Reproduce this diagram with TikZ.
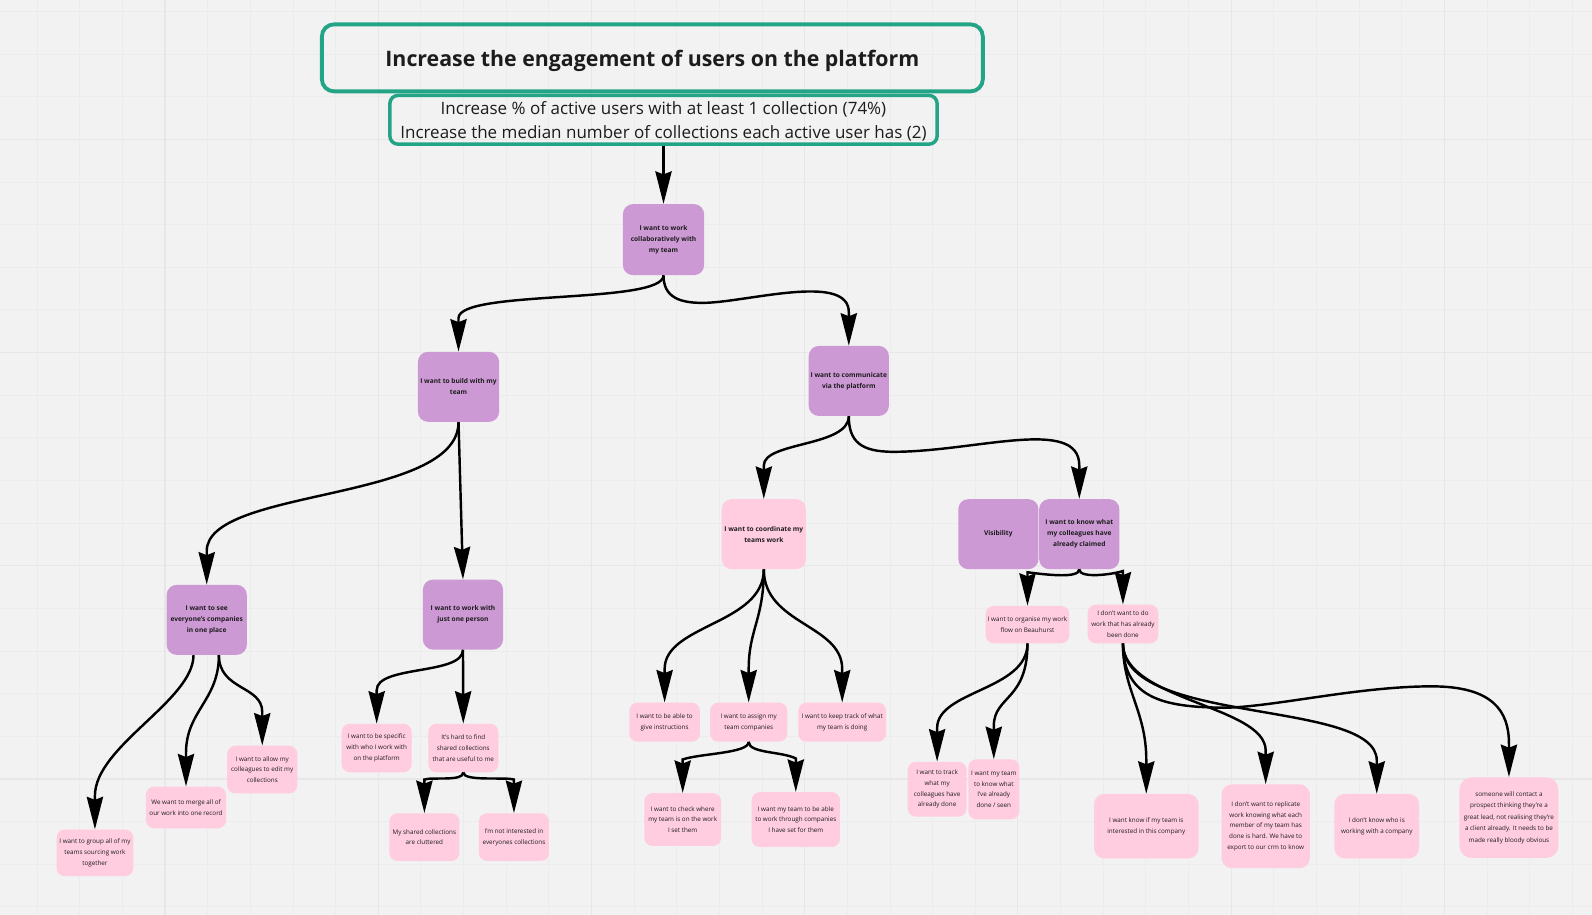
\documentclass[tikz,border=0pt]{standalone}
\usepackage{fontspec}
\setmainfont{Open Sans}
\usetikzlibrary{arrows.meta}
\definecolor{bgc}{RGB}{242,242,242}
\definecolor{gminor}{RGB}{236,236,236}
\definecolor{gmajor}{RGB}{231,231,231}
\definecolor{goalc}{RGB}{35,164,134}
\definecolor{purc}{RGB}{204,153,212}
\definecolor{pinkc}{RGB}{255,204,224}
\definecolor{txt}{RGB}{28,28,28}
\begin{document}
\begin{tikzpicture}[x=1pt,y=-1pt,
  gridminor/.style={draw=gminor,line width=0.8pt},
  gridmajor/.style={draw=gmajor,line width=1.1pt},
  goal/.style={draw=goalc,line width=3.8pt,inner sep=0pt,text=txt,align=center},
  purbox/.style={fill=purc,rounded corners=10pt,inner sep=0pt,align=center,text=txt,font=\bfseries\fontsize{6.5}{10.8}\selectfont},
  pinkbold/.style={fill=pinkc,rounded corners=10pt,inner sep=0pt,align=center,text=txt,font=\bfseries\fontsize{6.5}{10.8}\selectfont},
  pinkbox/.style={fill=pinkc,rounded corners=8pt,inner sep=0pt,align=center,text=txt,font=\fontsize{6.2}{10.6}\selectfont},
  arr/.style={draw=black,line width=2.4pt,-{Stealth[length=32pt,width=16pt,inset=3pt]}}
]
\fill[bgc] (0,0) rectangle (1568,901.2);
\useasboundingbox (0,0) rectangle (1568,901.2);
\foreach \i in {-3,...,33}{\draw[gridminor] ({162.5+42*\i},0) -- ({162.5+42*\i},901.2);}
\foreach \j in {-3,...,18}{\draw[gridminor] (0,{137.2+42*\j}) -- (1568,{137.2+42*\j});}
\foreach \i in {0,...,6}{\draw[gridmajor] ({162.5+210*\i},0) -- ({162.5+210*\i},901.2);}
\foreach \j in {0,...,3}{\draw[gridmajor] (0,{137.2+210*\j}) -- (1568,{137.2+210*\j});}

% goals
\node[goal,minimum width=651pt,minimum height=66pt,rounded corners=12pt,text height=17pt,text depth=0pt,font=\bfseries\fontsize{21}{25}\selectfont] (T) at (642.5,57) {Increase the engagement of users on the platform};
\node[goal,minimum width=539pt,minimum height=48pt,rounded corners=8pt,line width=3.4pt,text depth=0pt,font=\fontsize{16.75}{24}\selectfont] (S) at (653.5,118) {Increase \% of active users with at least 1 collection (74\%)\\Increase the median number of collections each active user has (2)};

% purple / main nodes
\node[purbox,minimum width=80pt,minimum height=70pt] (A) at (653.5,236) {I want to work\\collaboratively with\\my team};
\node[purbox,minimum width=80pt,minimum height=69pt] (B) at (451.6,381) {I want to build with my\\team};
\node[purbox,minimum width=79pt,minimum height=69pt] (C) at (836,375.2) {I want to communicate\\via the platform};
\node[purbox,minimum width=79pt,minimum height=69pt] (D) at (203.6,610.5) {I want to see\\everyone’s companies\\in one place};
\node[purbox,minimum width=79pt,minimum height=69pt] (E) at (456,605.3) {I want to work with\\just one person};
\node[pinkbold,minimum width=83pt,minimum height=69pt] (F) at (752.3,526.1) {I want to coordinate my\\teams work};
\node[purbox,minimum width=79pt,minimum height=69pt] (G) at (983.3,526.1) {Visibility};
\node[purbox,minimum width=79pt,minimum height=69pt] (H) at (1063,526.1) {I want to know what\\my colleagues have\\already claimed};

% pink leaves
\node[pinkbox,minimum width=75.5pt,minimum height=46pt] (D1) at (93.5,840) {I want to group all of my\\teams sourcing work\\together};
\node[pinkbox,minimum width=79pt,minimum height=41pt] (D2) at (183.2,795.3) {We want to merge all of\\our work into one record};
\node[pinkbox,minimum width=69pt,minimum height=47pt] (D3) at (258.3,758) {I want to allow my\\colleagues to edit my\\collections};
\node[pinkbox,minimum width=69pt,minimum height=47.7pt] (E1) at (371,736.8) {I want to be specific\\with who I work with\\on the platform};
\node[pinkbox,minimum width=69pt,minimum height=47.7pt] (E2) at (456.3,736.8) {It’s hard to find\\shared collections\\that are useful to me};
\node[pinkbox,minimum width=69pt,minimum height=47pt] (E21) at (418,824.5) {My shared collections\\are cluttered};
\node[pinkbox,minimum width=69pt,minimum height=47pt] (E22) at (506.2,824.5) {I’m not interested in\\everyones collections};
\node[pinkbox,minimum width=69.5pt,minimum height=38.4pt] (F1) at (654.6,711.3) {I want to be able to\\give instructions};
\node[pinkbox,minimum width=76pt,minimum height=38.4pt] (F2) at (737.4,711.3) {I want to assign my\\team companies};
\node[pinkbox,minimum width=86.4pt,minimum height=38.4pt] (F3) at (829.5,711.3) {I want to keep track of what\\my team is doing};
\node[pinkbox,minimum width=75.6pt,minimum height=52pt] (F21) at (672.4,807.2) {I want to check where\\my team is on the work\\I set them};
\node[pinkbox,minimum width=87pt,minimum height=54pt] (F22) at (783.8,807.2) {I want my team to be able\\to work through companies\\I have set for them};
\node[pinkbox,minimum width=82.4pt,minimum height=36.7pt] (H1) at (1012,615.2) {I want to organise my work\\flow on Beauhurst};
\node[pinkbox,minimum width=69.6pt,minimum height=38pt] (H2) at (1106,614.6) {I don’t want to do\\work that has already\\been done};
\node[pinkbox,minimum width=58pt,minimum height=54pt] (H11) at (923,777.3) {I want to track\\what my\\colleagues have\\already done};
\node[pinkbox,minimum width=50.3pt,minimum height=59pt] (H12) at (978.8,777.4) {I want my team\\to know what\\I’ve already\\done / seen};
\node[pinkbox,minimum width=103pt,minimum height=63.4pt,rounded corners=10pt] (H21) at (1129,813.7) {I want know if my team is\\interested in this company};
\node[pinkbox,minimum width=87pt,minimum height=82.5pt,rounded corners=10pt] (H22) at (1246.6,813.8) {I don’t want to replicate\\work knowing what each\\member of my team has\\done is hard. We have to\\export to our crm to know};
\node[pinkbox,minimum width=83.4pt,minimum height=63.4pt,rounded corners=10pt] (H23) at (1356,813.7) {I don’t know who is\\working with a company};
\node[pinkbox,minimum width=97.5pt,minimum height=79.4pt,rounded corners=12pt,font=\fontsize{6.2}{11.2}\selectfont] (H24) at (1486.2,805.3) {someone will contact a\\prospect thinking they’re a\\great lead, not realising they’re\\a client already. It needs to be\\made really bloody obvious};

% connectors
\draw[arr] (S.south) -- (A.north);
\draw[arr] (A.south) .. controls (653.5,300) and (451.6,285) .. ([yshift=33pt]B.north) -- (B.north);
\draw[arr] (A.south) .. controls (653.5,292) and (668,300) .. (700,298) .. controls (745,295) and (836,270) .. ([yshift=33pt]C.north) -- (C.north);
\draw[arr] (B.south) .. controls (451.6,495) and (203.6,480) .. ([yshift=33pt]D.north) -- (D.north);
\draw[arr] (B.south) -- (E.north);
\draw[arr] (C.south) .. controls (836,440) and (752.3,435) .. ([yshift=33pt]F.north) -- (F.north);
\draw[arr] (C.south) .. controls (836,435) and (848,445) .. (880,445) .. controls (960,445) and (1063,410) .. ([yshift=33pt]H.north) -- (H.north);

\draw[arr] ([xshift=-13pt]D.south) .. controls (190.6,690) and (93.5,735) .. ([yshift=33pt]D1.north) -- (D1.north);
\draw[arr] ([xshift=12pt]D.south) .. controls (215.6,690) and (183.2,700) .. ([yshift=33pt]D2.north) -- (D2.north);
\draw[arr] ([xshift=12pt]D.south) .. controls (215.6,680) and (258.3,675) .. ([yshift=33pt]D3.north) -- (D3.north);

\draw[arr] (E.south) .. controls (456,665) and (371,655) .. ([yshift=33pt]E1.north) -- (E1.north);
\draw[arr] (E.south) -- (E2.north);
\draw[arr] (E2.south) .. controls (456.3,770) and (425,765) .. ([yshift=33pt]E21.north) -- (E21.north);
\draw[arr] (E2.south) .. controls (456.3,770) and (498,765) .. ([yshift=33pt]E22.north) -- (E22.north);

\draw[arr] (F.south) .. controls (752.3,615) and (654.6,615) .. ([yshift=33pt]F1.north) -- (F1.north);
\draw[arr] (F.south) .. controls (752.3,610) and (737.4,620) .. ([yshift=33pt]F2.north) -- (F2.north);
\draw[arr] (F.south) .. controls (752.3,615) and (829.5,615) .. ([yshift=33pt]F3.north) -- (F3.north);
\draw[arr] (F2.south) .. controls (737.4,742) and (690,742) .. ([yshift=33pt]F21.north) -- (F21.north);
\draw[arr] (F2.south) .. controls (737.4,742) and (770,740) .. ([yshift=33pt]F22.north) -- (F22.north);

\draw[arr] (H.south) .. controls (1063,570) and (1030,566) .. ([yshift=33pt]H1.north) -- (H1.north);
\draw[arr] (H.south) .. controls (1063,570) and (1095,566) .. ([yshift=33pt]H2.north) -- (H2.north);
\draw[arr] (H1.south) .. controls (1012,680) and (923,680) .. ([yshift=33pt]H11.north) -- (H11.north);
\draw[arr] (H1.south) .. controls (1012,690) and (979.3,685) .. ([yshift=33pt]H12.north) -- (H12.north);

\draw[arr] (H2.south) .. controls (1106,680) and (1129,700) .. ([yshift=33pt]H21.north) -- (H21.north);
\draw[arr] (H2.south) .. controls (1106,690) and (1246.6,695) .. ([yshift=33pt]H22.north) -- (H22.north);
\draw[arr] (H2.south) .. controls (1106,715) and (1355.3,688) .. ([yshift=33pt]H23.north) -- (H23.north);
\draw[arr] (H2.south) .. controls (1106,690) and (1150,697) .. (1210,697) .. controls (1260,695) and (1340,676) .. (1410,676) .. controls (1470,676) and (1486.2,700) .. ([yshift=33pt]H24.north) -- (H24.north);
\end{tikzpicture}
\end{document}
